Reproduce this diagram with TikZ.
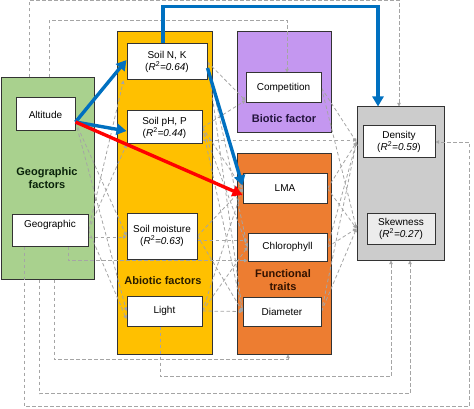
\documentclass[tikz,border=0pt]{standalone}
\usepackage{fontspec}
\setmainfont{Liberation Sans}
\usetikzlibrary{arrows.meta,calc}
\definecolor{gfill}{RGB}{169,209,142}
\definecolor{yfill}{RGB}{255,192,0}
\definecolor{pfill}{RGB}{196,151,240}
\definecolor{ofill}{RGB}{237,125,49}
\definecolor{greyfill}{RGB}{204,204,204}
\definecolor{lightgreyfill}{RGB}{236,236,236}
\definecolor{bluearr}{RGB}{0,112,192}
\definecolor{redarr}{RGB}{255,0,0}
\definecolor{dashc}{RGB}{165,165,165}
\definecolor{edge}{RGB}{51,51,51}
\definecolor{gtext}{RGB}{10,35,10}
\definecolor{atext}{RGB}{40,28,0}
\definecolor{btext}{RGB}{35,20,60}
\definecolor{ftext}{RGB}{50,18,0}
\pgfdeclarelayer{grp}
\pgfdeclarelayer{dash}
\pgfsetlayers{grp,dash,main}
\begin{document}
\begin{tikzpicture}[x=1pt,y=-1pt,
  group/.style={draw=edge, line width=1pt, inner sep=0pt},
  item/.style={draw=edge, line width=1pt, fill=white, inner sep=0pt, align=center, font=\fontsize{10}{12}\selectfont},
  glabel/.style={font=\fontsize{11}{13}\selectfont\bfseries, align=center, inner sep=0pt},
  bigarrow/.style={line width=3.4pt, -{Triangle[length=10pt,width=11pt]}},
  dep/.style={dashc, line width=0.8pt, dash pattern=on 3.5pt off 2.5pt, -{Triangle[length=3.5pt,width=3.5pt]}}]
\useasboundingbox (0,0) rectangle (474,409);

% group boxes
\begin{pgfonlayer}{grp}
\node[group, fill=gfill, minimum width=93pt, minimum height=201pt] (gf) at (47.5,178.5) {};
\node[group, fill=yfill, minimum width=95pt, minimum height=322pt] (ab) at (164.5,193) {};
\node[group, fill=pfill, minimum width=94pt, minimum height=101pt] (bio) at (284,82.5) {};
\node[group, fill=ofill, minimum width=94pt, minimum height=200pt] (ft) at (284,254) {};
\node[group, fill=greyfill, minimum width=87pt, minimum height=153pt] (gbox) at (400.5,183.5) {};
\end{pgfonlayer}

% group labels
\node[glabel, text=gtext] (gfl) at (47,178.5) {Geographic\\factors};
\node[glabel, text=atext] (abl) at (163,281) {Abiotic factors};
\node[glabel, text=btext] (biol) at (284,119) {Biotic factor};
\node[glabel, text=ftext] (ftl) at (283,280.5) {Functional\\traits};

% items
\node[item, minimum width=59pt, minimum height=33pt] (alt) at (45.5,114.5) {Altitude};
\node[item, minimum width=76pt, minimum height=32pt] (geo) at (50,230) {Geographic\\\mbox{}};
\node[item, minimum width=80pt, minimum height=36pt] (snk) at (167,62) {Soil N, K\\(\textit{R}\textsuperscript{2}\textit{=0.64})};
\node[item, minimum width=75pt, minimum height=33pt] (sph) at (164.5,127.5) {Soil pH, P\\(\textit{R}\textsuperscript{2}\textit{=0.44})};
\node[item, minimum width=70pt, minimum height=46pt] (smo) at (162,236) {Soil moisture\\(\textit{R}\textsuperscript{2}\textit{=0.63})};
\node[item, minimum width=75pt, minimum height=30pt] (light) at (164.5,311) {Light};
\node[item, minimum width=75pt, minimum height=30pt] (comp) at (283.5,88) {Competition};
\node[item, minimum width=84pt, minimum height=29pt] (lma) at (285,188.5) {LMA};
\node[item, minimum width=79pt, minimum height=28pt] (chl) at (287.5,247) {Chlorophyll};
\node[item, minimum width=78pt, minimum height=29pt] (dia) at (282,311.5) {Diameter};
\node[item, minimum width=72pt, minimum height=32pt] (dens) at (399,142) {Density\\(\textit{R}\textsuperscript{2}\textit{=0.59})};
\node[item, fill=lightgreyfill, minimum width=68pt, minimum height=31pt] (skew) at (401,228.5) {Skewness\\(\textit{R}\textsuperscript{2}\textit{=0.27})};

% dashed paths
\begin{pgfonlayer}{dash}
% outer routes
\draw[dep] ($(gf.north)+(-18.5,0)$) -- ++(0,-77) -| ($(gbox.north)+(-1.5,0)$);
\draw[dep] ($(gf.north)+(1.5,0)$) -- ++(0,-57) -| ($(comp.north)+(3.5,0)$);
\draw[dep] ($(geo.south)+(-26,0)$) -- ++(0,160) -- ++(445,0) |- (dens.east);
\draw[dep] ($(gf.south)+(-8.5,0)$) -- ++(0,114) -| ($(gbox.south)+(9.5,0)$);
\draw[dep] ($(gf.south)+(6.5,0)$) -- ++(0,80) -| ($(ft.south)+(4,0)$);
\draw[dep] ($(light.south)+(-4.5,0)$) -- ++(0,50) -| ($(gbox.south)+(-9.5,0)$);
\draw[dep] ($(geo.south)+(18,0)$) |- ($(chl.south west)+(0,-1)$);
% geographic to abiotic
\draw[dep] ($(alt.east)+(0,7.5)$) -- (smo.west);
\draw[dep] ($(alt.east)+(0,7.5)$) -- (light.west);
\draw[dep] (geo.east) -- ($(snk.south west)+(-3,0)$);
\draw[dep] (geo.east) -- (sph.south west);
\draw[dep] ($(geo.east)+(0,7)$) -- ($(smo.west)+(0,1)$);
\draw[dep] (geo.east) -- ($(light.west)+(0,8)$);
% abiotic to biotic
\draw[dep] (snk.east) -- ($(comp.south west)+(0,-3)$);
\draw[dep] (sph.east) -- ($(comp.south west)+(0,-3)$);
% abiotic to traits and response
\draw[dep] ($(sph.east)+(0,12.5)$) -- (gbox.west |- {$(sph.east)+(0,12.5)$});
\draw[dep] (snk.east) -- (chl.west);
\draw[dep] (snk.east) -- (dia.west);
\draw[dep] (sph.east) -- (lma.west);
\draw[dep] (sph.east) -- (chl.west);
\draw[dep] (sph.east) -- (dia.west);
\draw[dep] (smo.east) -- (lma.west);
\draw[dep] ($(smo.east)+(0,4)$) -- ($(chl.west)+(0,-7)$);
\draw[dep] (smo.east) -- (dia.west);
\draw[dep] (light.east) -- (lma.west);
\draw[dep] (light.east) -- (chl.west);
\draw[dep] (light.east) -- (dia.west);
% traits and biotic to response
\draw[dep] (comp.east) -- (gbox.west |- dens.west);
\draw[dep] (comp.east) -- (gbox.west |- skew.west);
\draw[dep] (lma.east) -- (gbox.west |- dens.west);
\draw[dep] (lma.east) -- (gbox.west |- skew.west);
\draw[dep] (chl.east) -- (gbox.west |- dens.west);
\draw[dep] (chl.east) -- (gbox.west |- skew.west);
\draw[dep] (dia.east) -- (gbox.west |- dens.west);
\draw[dep] (dia.east) -- (gbox.west |- skew.west);
\end{pgfonlayer}

% bold arrows
\draw[bigarrow, bluearr] ($(alt.east)+(0,7.5)$) -- ($(snk.west)+(0,-2)$);
\draw[bigarrow, bluearr] ($(alt.east)+(0,7.5)$) -- ($(sph.west)+(0,3.5)$);
\draw[bigarrow, redarr] ($(alt.east)+(0,7.5)$) -- ($(lma.west)+(0,6.5)$);
\draw[bigarrow, bluearr] ($(snk.east)+(0,6)$) -- ($(lma.west)+(0,-3)$);
\draw[bigarrow, bluearr] ($(snk.north)+(-4,0)$) -- ++(0,-37) -| ($(gbox.north)+(-22.5,0)$);
\end{tikzpicture}
\end{document}
